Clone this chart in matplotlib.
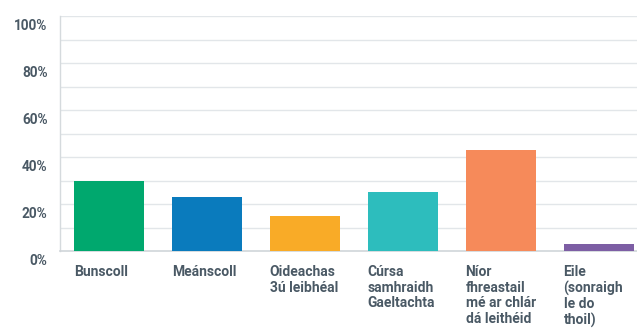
import matplotlib.pyplot as plt
import matplotlib.transforms as mtransforms
import numpy as np

# Survey responses (percent)
categories = [
    "Bunscoll",
    "Meánscoll",
    "Oideachas\n3ú leibhéal",
    "Cúrsa\nsamhraidh\nGaeltachta",
    "Níor\nfhreastail\nmé ar chlár\ndá leithéid",
    "Eile\n(sonraigh\nle do\nthoil)",
]
values = [30, 23, 15, 25, 43, 3]
colors = ["#00a86e", "#0a7bbd", "#f9ab27", "#2dbdbd", "#f68a5a", "#7d5ea4"]

y_ticks = [0, 20, 40, 60, 80, 100]
y_labels = ["0%", "20%", "40%", "60%", "80%", "100%"]

text_clr = "#4a5965"
grid_clr = "#e2e6e9"

plt.rcParams["font.family"] = ["Roboto", "DejaVu Sans"]

fig = plt.figure(figsize=(6.37, 3.29), dpi=100)
ax = fig.add_axes([60 / 637, 78 / 329, 1 - 60 / 637, 235 / 329])

x_locs = np.arange(len(categories))
width = 0.72
ax.bar(x_locs, values, width=width, color=colors, zorder=3)

ax.set_xlim(-0.5, 5.39)
ax.set_ylim(0, 100)

# light gridlines every 10%, labels only every 20%
for y in range(10, 101, 10):
    ax.axhline(y, color=grid_clr, linewidth=1.0, zorder=1)

ax.set_yticks(y_ticks)
ax.set_yticklabels(y_labels)
ax.tick_params(axis="y", length=0, pad=9, labelsize=9.8, labelcolor=text_clr)
for lbl in ax.get_yticklabels():
    lbl.set_fontweight("bold")
    lbl.set_transform(lbl.get_transform() + mtransforms.ScaledTranslation(0, -6 / 72, fig.dpi_scale_trans))

ax.set_xticks([])
for side in ["top", "right"]:
    ax.spines[side].set_visible(False)
ax.spines["left"].set_color("#d5dadd")
ax.spines["bottom"].set_color("#d0d5d9")
ax.spines["left"].set_linewidth(1.0)
ax.spines["bottom"].set_linewidth(1.2)

# category labels, left-aligned under each bar
for x, name in zip(x_locs, categories):
    ax.annotate(
        name,
        xy=(x - width / 2, 0),
        xycoords="data",
        xytext=(0, -10),
        textcoords="offset points",
        ha="left",
        va="top",
        fontsize=10,
        fontweight="bold",
        color=text_clr,
        linespacing=1.15,
    )

fig.savefig("out.png", dpi=100)
